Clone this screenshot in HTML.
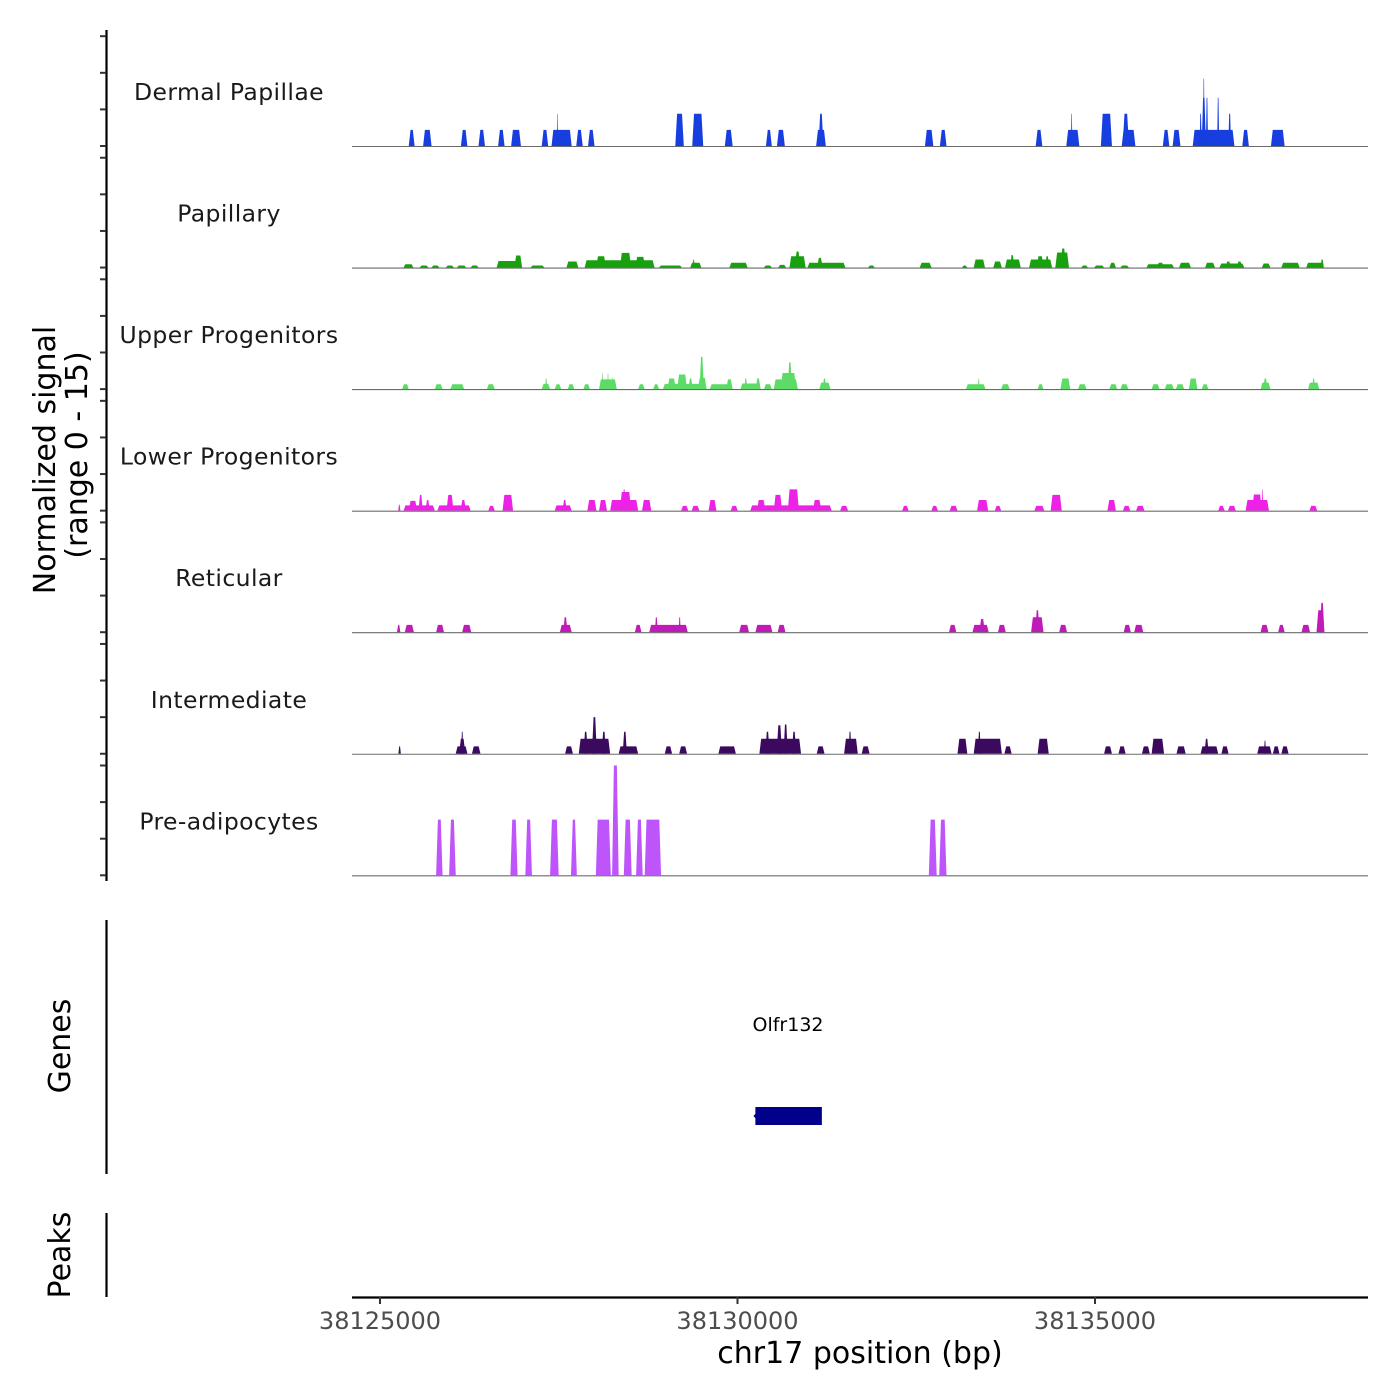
<!DOCTYPE html>
<html><head><meta charset="utf-8">
<style>
html,body{margin:0;padding:0;background:#fff;}
svg{display:block;font-family:"DejaVu Sans","Liberation Sans",sans-serif;}
</style></head>
<body>
<svg id="chart" width="1400" height="1400" viewBox="0 0 1400 1400" xmlns="http://www.w3.org/2000/svg">
<rect x="0" y="0" width="1400" height="1400" fill="#fff"/>
<g id="tracks"></g>
<g id="yaxis"></g>
<text transform="translate(55,460) rotate(-90)" text-anchor="middle" font-size="30" fill="#000">Normalized signal</text>
<text transform="translate(87,455) rotate(-90)" text-anchor="middle" font-size="30" fill="#000">(range 0 - 15)</text>
<line x1="106.5" y1="920" x2="106.5" y2="1174" stroke="#000" stroke-width="2.2"/>
<text transform="translate(70,1046) rotate(-90)" text-anchor="middle" font-size="30" fill="#000">Genes</text>
<text x="788" y="1031" text-anchor="middle" font-size="19" fill="#000">Olfr132</text>
<g id="genes"></g>
<line x1="106.5" y1="1213" x2="106.5" y2="1297" stroke="#000" stroke-width="2.2"/>
<text transform="translate(70,1255) rotate(-90)" text-anchor="middle" font-size="30" fill="#000">Peaks</text>
<g id="xaxis"></g>
<text x="860" y="1363" text-anchor="middle" font-size="30" fill="#000">chr17 position (bp)</text>
</svg>
<script>
const REGION_START = 38124600;
const xTickValues = [38125000, 38130000, 38135000];
const yTickValues = [0, 5, 10, 15];
const trackNames = ["Dermal Papillae","Papillary","Upper Progenitors","Lower Progenitors","Reticular","Intermediate","Pre-adipocytes"];
const trackColors = ["#173fdf","#19a00f","#5cdc67","#ee22e6","#c01ab9","#3b0a5f","#bd55fa"];
// peaks: [start offset bp from REGION_START, end offset bp, signal]
const dermalPeaks = [[802,884,2.2],[1003,1121,2.2],[1532,1622,2.2],[1778,1868,2.2],[2052,2142,2.2],[2234,2371,2.2],[2662,2752,2.2],[2799,3081,2.2],[2875,2891,4.4],[3145,3235,2.2],[3310,3400,2.2],[4530,4649,4.4],[4767,4921,4.4],[5223,5332,2.2],[5798,5880,2.2],[5952,6062,2.2],[6500,6635,2.2],[6533,6602,4.4],[8022,8139,2.2],[8231,8323,2.2],[9571,9663,2.2],[9999,10181,2.2],[10064,10083,4.4],[10482,10637,4.4],[10774,10965,2.2],[10787,10875,4.4],[11349,11439,2.2],[11486,11595,2.2],[11767,12350,2.2],[11863,11892,4.4],[11892,11951,6.6],[11912,11932,9.2],[11951,11981,6.6],[12108,12137,6.6],[12264,12303,4.4],[12460,12552,2.2],[12861,13052,2.2]];
const papillaryPeaks = [[730,866,0.45],[956,1076,0.28],[1121,1230,0.28],[1322,1432,0.28],[1477,1604,0.28],[1668,1778,0.28],[2032,2388,0.9],[2279,2388,1.65],[2508,2697,0.28],[3008,3173,0.83],[3263,4239,1.0],[3423,3560,1.55],[3756,3912,2.0],[3971,4108,1.45],[4303,4622,0.28],[4739,4894,0.66],[4773,4802,1.1],[5287,5541,0.66],[5770,5880,0.28],[5970,6079,0.37],[6126,6353,1.55],[6201,6279,2.2],[6380,6909,0.66],[6513,6592,1.33],[7227,7319,0.28],[7949,8112,0.66],[8540,8614,0.28],[8704,8861,1.1],[8978,9097,0.83],[9142,9361,1.1],[9213,9271,1.7],[9479,9800,1.1],[9584,9682,1.55],[9702,9760,1.55],[9845,10036,2.05],[9917,9995,2.6],[10208,10300,0.28],[10390,10527,0.28],[10602,10692,0.66],[10756,10873,0.28],[11120,11503,0.45],[11267,11364,0.66],[11576,11740,0.66],[11941,12078,0.66],[12141,12487,0.55],[12225,12303,0.83],[12381,12460,0.83],[12734,12853,0.55],[13007,13262,0.66],[13354,13600,0.66],[13555,13600,1.1]];
const upperPeaks = [[710,802,0.66],[1166,1275,0.66],[1385,1577,0.66],[1895,2005,0.66],[2662,2779,0.72],[2709,2738,1.45],[2844,2934,0.66],[3026,3118,0.66],[3245,3337,0.66],[3464,3711,1.33],[3501,3521,2.15],[3579,3599,2.15],[3638,3658,1.55],[4010,4102,0.66],[4221,4303,0.66],[4358,4968,0.72],[4421,4538,1.45],[4557,4694,2.0],[4714,4773,1.45],[4847,4968,1.55],[4870,4929,4.4],[5013,5332,0.66],[5242,5332,1.33],[5442,5723,0.77],[5496,5535,1.45],[5653,5723,1.45],[5770,5880,0.66],[5907,6244,1.33],[6005,6220,2.2],[6103,6161,3.65],[6545,6699,0.88],[6592,6641,1.45],[8595,8868,0.66],[8763,8786,1.45],[9088,9207,0.66],[9598,9680,0.66],[9917,10054,1.45],[10163,10281,0.66],[10602,10711,0.66],[10756,10866,0.66],[11192,11302,0.66],[11376,11503,0.66],[11531,11648,0.66],[11713,11832,1.45],[11894,11986,0.66],[12716,12853,0.88],[12753,12812,1.45],[13381,13536,0.88],[13438,13477,1.45]];
const lowerPeaks = [[655,685,0.83],[730,1166,0.72],[802,919,1.33],[939,998,2.15],[1037,1095,1.45],[1203,1668,0.72],[1330,1428,2.15],[1526,1604,1.45],[1915,2005,0.66],[2114,2261,2.15],[2844,3081,0.72],[2954,3012,1.45],[3300,3427,1.45],[3464,3574,1.45],[3619,4010,1.45],[3756,3912,2.55],[3795,3834,2.9],[4065,4194,1.45],[4612,4712,0.66],[4759,4867,0.66],[4996,5105,1.45],[5305,5404,0.66],[5579,6717,0.72],[5672,5790,1.45],[5907,6024,2.15],[6103,6259,2.9],[6455,6572,1.45],[6836,6946,0.66],[7703,7793,0.66],[8112,8203,0.66],[8368,8477,0.66],[8751,8906,1.45],[8998,9088,0.66],[9553,9690,0.66],[9780,9935,2.15],[10574,10692,1.45],[10791,10893,0.66],[10975,11092,0.66],[12123,12213,0.66],[12260,12370,0.66],[12507,12833,1.45],[12597,12734,2.2],[12734,12753,2.9],[13399,13508,0.66]];
const reticularPeaks = [[638,685,1.0],[747,874,1.0],[1185,1295,1.0],[1549,1676,1.0],[2916,3081,1.0],[2963,3022,2.05],[3965,4057,1.0],[4166,4704,1.0],[4245,4284,2.05],[4577,4606,2.05],[5424,5561,1.0],[5651,5888,1.0],[5962,6071,1.0],[8358,8460,1.0],[8687,8913,1.0],[8782,8861,1.8],[9043,9152,1.0],[9506,9680,2.05],[9565,9624,3.0],[9899,10009,1.0],[10801,10901,1.0],[10948,11075,1.0],[12716,12825,1.0],[12962,13052,1.0],[13289,13408,1.0],[13498,13608,3.0],[13545,13608,4.0]];
const intermediatePeaks = [[657,692,1.0],[1459,1623,1.0],[1506,1594,2.05],[1535,1565,3.0],[1686,1805,1.0],[2989,3098,1.0],[3180,3619,2.05],[3247,3306,3.0],[3364,3433,5.0],[3501,3560,3.0],[3738,4010,1.0],[3795,3853,3.0],[4383,4485,1.0],[4585,4694,1.0],[5133,5377,1.0],[5706,6289,2.05],[5790,5848,3.0],[5946,6024,3.9],[6044,6103,4.0],[6161,6220,3.0],[6508,6617,1.0],[6891,7083,2.05],[6954,6993,3.0],[7137,7247,1.0],[8477,8614,2.05],[8704,9097,2.05],[8763,8802,3.0],[9133,9234,1.0],[9598,9753,2.05],[10527,10637,1.0],[10729,10828,1.0],[11057,11167,1.0],[11192,11366,2.05],[11540,11668,1.0],[11877,12123,1.0],[11932,11990,2.05],[12168,12268,1.0],[12669,12870,1.0],[12763,12792,1.8],[12888,12980,1.0],[13007,13107,1.0]];
const preadipocytePeaks = [[1185,1275,7.6],[1367,1459,7.6],[2224,2324,7.6],[2433,2525,7.6],[2779,2899,7.6],[3071,3153,7.6],[3419,3628,7.6],[3646,3738,15],[3810,3920,7.6],[3982,4074,7.6],[4102,4331,7.6],[8076,8186,7.6],[8221,8323,7.6]];
const allPeaks = [dermalPeaks,papillaryPeaks,upperPeaks,lowerPeaks,reticularPeaks,intermediatePeaks,preadipocytePeaks];
const geneStart = 38130250, geneEnd = 38131180;

const NS = "http://www.w3.org/2000/svg";
const PX_PER_BP = 0.0715, X0 = 380, PLOT_L = 352, PLOT_R = 1368;
const BASE0 = 146, TRACK_H = 121.55, PX_PER_UNIT = 7.32;
function xAbs(bp){ return X0 + (bp - 38125000) * PX_PER_BP; }
function xOff(off){ return xAbs(REGION_START + off); }
function yVal(i, v){ return BASE0 + i * TRACK_H - v * PX_PER_UNIT; }
function mk(tag, attrs, parent){ const e = document.createElementNS(NS, tag); for (const k in attrs) e.setAttribute(k, attrs[k]); parent.appendChild(e); return e; }

const tracksG = document.getElementById('tracks');
allPeaks.forEach((peaks, i) => {
  const g = mk('g', {}, tracksG);
  
  
  const base = yVal(i, 0);
  peaks.forEach(p => {
    const s = xOff(p[0]), e = xOff(p[1]), t = yVal(i, p[2]);
    const r = Math.min(1.8, (e - s) / 3);
    const poly = mk('polygon', {points: `${s},${base} ${s+r},${t} ${e-r},${t} ${e},${base}`, fill: trackColors[i]}, g);
    
    
  });
  const bl = mk('line', {x1: PLOT_L, x2: PLOT_R, y1: base + 0.5, y2: base + 0.5, stroke: '#6b6b6b', 'stroke-width': 1.1}, g);
  
  
  const lab = mk('text', {x: 229, y: base - 46, 'text-anchor': 'middle', 'font-size': 23.5, fill: '#1a1a1a', 'letter-spacing': '0.4'}, g);
  lab.textContent = trackNames[i];
  
  
});

const yG = document.getElementById('yaxis');
const axl = mk('line', {x1: 106.5, x2: 106.5, y1: 30, y2: 881, stroke: '#000', 'stroke-width': 2.2}, yG);


for (let i = 0; i < trackNames.length; i++) {
  yTickValues.forEach(v => {
    const y = yVal(i, v);
    const t = mk('line', {x1: 100, x2: 106, y1: y, y2: y, stroke: '#333', 'stroke-width': 2}, yG);
    
    
  });
}

const gG = document.getElementById('genes');
const gx1 = xAbs(geneStart), gx2 = xAbs(geneEnd);
const gr = mk('rect', {x: gx1, y: 1107, width: gx2 - gx1, height: 18, fill: '#00008b'}, gG);


const ga = mk('polygon', {points: `${gx1-2},1116 ${gx1+2},1112 ${gx1+2},1120`, fill: '#00008b'}, gG);



const xG = document.getElementById('xaxis');
const xl = mk('line', {x1: PLOT_L, x2: PLOT_R, y1: 1297.5, y2: 1297.5, stroke: '#000', 'stroke-width': 2.2}, xG);


xTickValues.forEach(v => {
  const x = xAbs(v);
  const t = mk('line', {x1: x, x2: x, y1: 1297, y2: 1304, stroke: '#333', 'stroke-width': 2}, xG);
  
  
  const l = mk('text', {x: x, y: 1329, 'text-anchor': 'middle', 'font-size': 24, fill: '#4d4d4d'}, xG);
  l.textContent = String(v);
  
  
});
</script>
</body></html>
